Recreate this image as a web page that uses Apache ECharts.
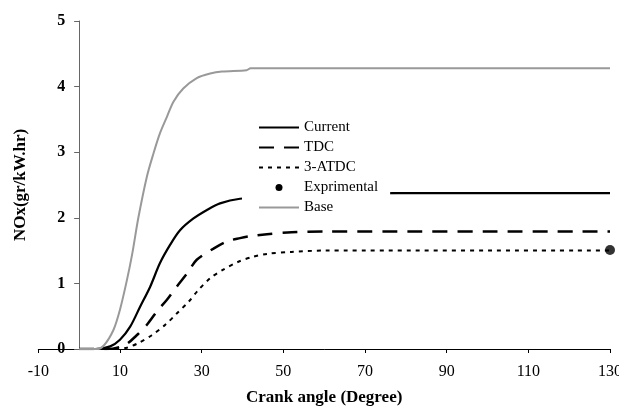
<!DOCTYPE html>
<html>
<head>
<meta charset="utf-8">
<script src="https://cdn.jsdelivr.net/npm/echarts@6/dist/echarts.min.js"></script>
<style>
  html, body { margin: 0; padding: 0; background: #fff; }
  #chart { width: 619px; height: 408px; }
</style>
</head>
<body>
<div id="chart"></div>
<script>
// NOx formation versus crank angle for several injection timings
const xTicks = [-10, 10, 30, 50, 70, 90, 110, 130];
const yTicks = [0, 1, 2, 3, 4, 5];

const currentAngle = [0, 3.9, 7.6, 10, 12.5, 14.9, 17.4, 19.8, 22.3, 24.7, 28, 31.3, 34.5, 39.4, 50, 65, 78, 130];
const currentNOx   = [0, 0, 0.04, 0.14, 0.34, 0.64, 0.95, 1.31, 1.59, 1.81, 1.99, 2.12, 2.22, 2.29, 2.34, 2.37, 2.375, 2.375];

const tdcAngle = [0, 6.8, 11.2, 14.1, 16.6, 19, 21.5, 23.9, 26.4, 28.8, 32.9, 36.2, 39.4, 41.9, 46, 52, 60, 130];
const tdcNOx   = [0, 0, 0.06, 0.21, 0.37, 0.57, 0.75, 0.95, 1.15, 1.36, 1.53, 1.64, 1.69, 1.72, 1.75, 1.78, 1.79, 1.79];

const atdcAngle = [0, 9, 11.7, 14.5, 17.8, 21.1, 23.9, 26.8, 29.2, 32.1, 35.3, 39, 42.3, 46, 52, 60, 130];
const atdcNOx   = [0, 0, 0.02, 0.09, 0.21, 0.37, 0.54, 0.72, 0.9, 1.08, 1.21, 1.33, 1.4, 1.45, 1.48, 1.5, 1.5];

const expAngle = [130];
const expNOx   = [1.51];

const baseAngle = [0, 4.3, 6, 8.4, 10, 11.7, 13, 14.5, 16.6, 18.2, 19.8, 21.5, 23.1, 25.5, 28.8, 32.1, 35, 41, 42, 130];
const baseNOx   = [0, 0, 0.05, 0.29, 0.6, 1.05, 1.45, 2.0, 2.63, 2.98, 3.29, 3.54, 3.77, 3.97, 4.13, 4.2, 4.23, 4.25, 4.28, 4.28];

const zip = (xs, ys) => xs.map((x, i) => [x, ys[i]]);

const serif = 'Liberation Serif';
const gridLeft = 38.3;
const gridRight = 9;
const chartWidth = 619;
// shift the y axis from the grid's left edge to where crank angle = 0
const yAxisShift = (0 - xTicks[0]) / (xTicks[xTicks.length - 1] - xTicks[0]) * (chartWidth - gridLeft - gridRight);

const chart = echarts.init(document.getElementById('chart'), null, { renderer: 'canvas' });

chart.setOption({
  backgroundColor: '#fff',
  animation: false,
  grid: { left: gridLeft, right: gridRight, top: 21, bottom: 59, containLabel: false, outerBoundsMode: 'none' },
  legend: {
    orient: 'vertical',
    left: 242,
    top: 115,
    backgroundColor: '#fff',
    padding: [5, 12, 4, 16],
    itemWidth: 40,
    itemHeight: 7,
    itemGap: 5,
    itemStyle: { opacity: 0 },
    textStyle: { fontFamily: serif, fontSize: 15, color: '#000', lineHeight: 14 },
    data: [
      'Current', 'TDC', '3-ATDC',
      { name: 'Exprimental', itemStyle: { opacity: 1, color: '#000' } },
      'Base'
    ]
  },
  xAxis: {
    type: 'value',
    min: xTicks[0],
    max: xTicks[xTicks.length - 1],
    interval: xTicks[1] - xTicks[0],
    name: 'Crank angle (Degree)',
    nameLocation: 'middle',
    nameGap: 40,
    nameTextStyle: { fontFamily: serif, fontSize: 17, fontWeight: 'bold', color: '#000' },
    axisLine: { lineStyle: { color: '#000', width: 1 } },
    axisTick: { show: true, length: 4, lineStyle: { color: '#000' } },
    axisLabel: { fontFamily: serif, fontSize: 16, color: '#000', margin: 15 },
    splitLine: { show: false }
  },
  yAxis: {
    type: 'value',
    position: 'left',
    offset: -yAxisShift,
    min: yTicks[0],
    max: yTicks[yTicks.length - 1],
    interval: yTicks[1] - yTicks[0],
    name: 'NOx(gr/kW.hr)',
    nameLocation: 'middle',
    nameGap: 50,
    nameTextStyle: { fontFamily: serif, fontSize: 17, fontWeight: 'bold', color: '#000' },
    axisLine: { show: true, onZero: false, lineStyle: { color: '#666', width: 1 } },
    axisTick: { show: true, length: 5, lineStyle: { color: '#666' } },
    axisLabel: { fontFamily: serif, fontSize: 16, fontWeight: 'bold', color: '#000', margin: 14 },
    splitLine: { show: false }
  },
  series: [
    {
      name: 'Current', type: 'line', data: zip(currentAngle, currentNOx),
      symbol: 'none', smooth: 0.3,
      lineStyle: { color: '#000', width: 2.2 }, itemStyle: { color: '#000' }
    },
    {
      name: 'TDC', type: 'line', data: zip(tdcAngle, tdcNOx),
      symbol: 'none', smooth: 0.3,
      lineStyle: { color: '#000', width: 2.5, type: [15, 10] }, itemStyle: { color: '#000' }
    },
    {
      name: '3-ATDC', type: 'line', data: zip(atdcAngle, atdcNOx),
      symbol: 'none', smooth: 0.3,
      lineStyle: { color: '#000', width: 2, type: [4, 5] }, itemStyle: { color: '#000' }
    },
    {
      name: 'Exprimental', type: 'scatter', data: zip(expAngle, expNOx),
      symbol: 'circle', symbolSize: 10,
      itemStyle: { color: '#000' }
    },
    {
      name: 'Base', type: 'line', data: zip(baseAngle, baseNOx),
      symbol: 'none', smooth: 0.3,
      lineStyle: { color: '#999', width: 2 }, itemStyle: { color: '#999' }
    }
  ]
});
</script>
</body>
</html>
